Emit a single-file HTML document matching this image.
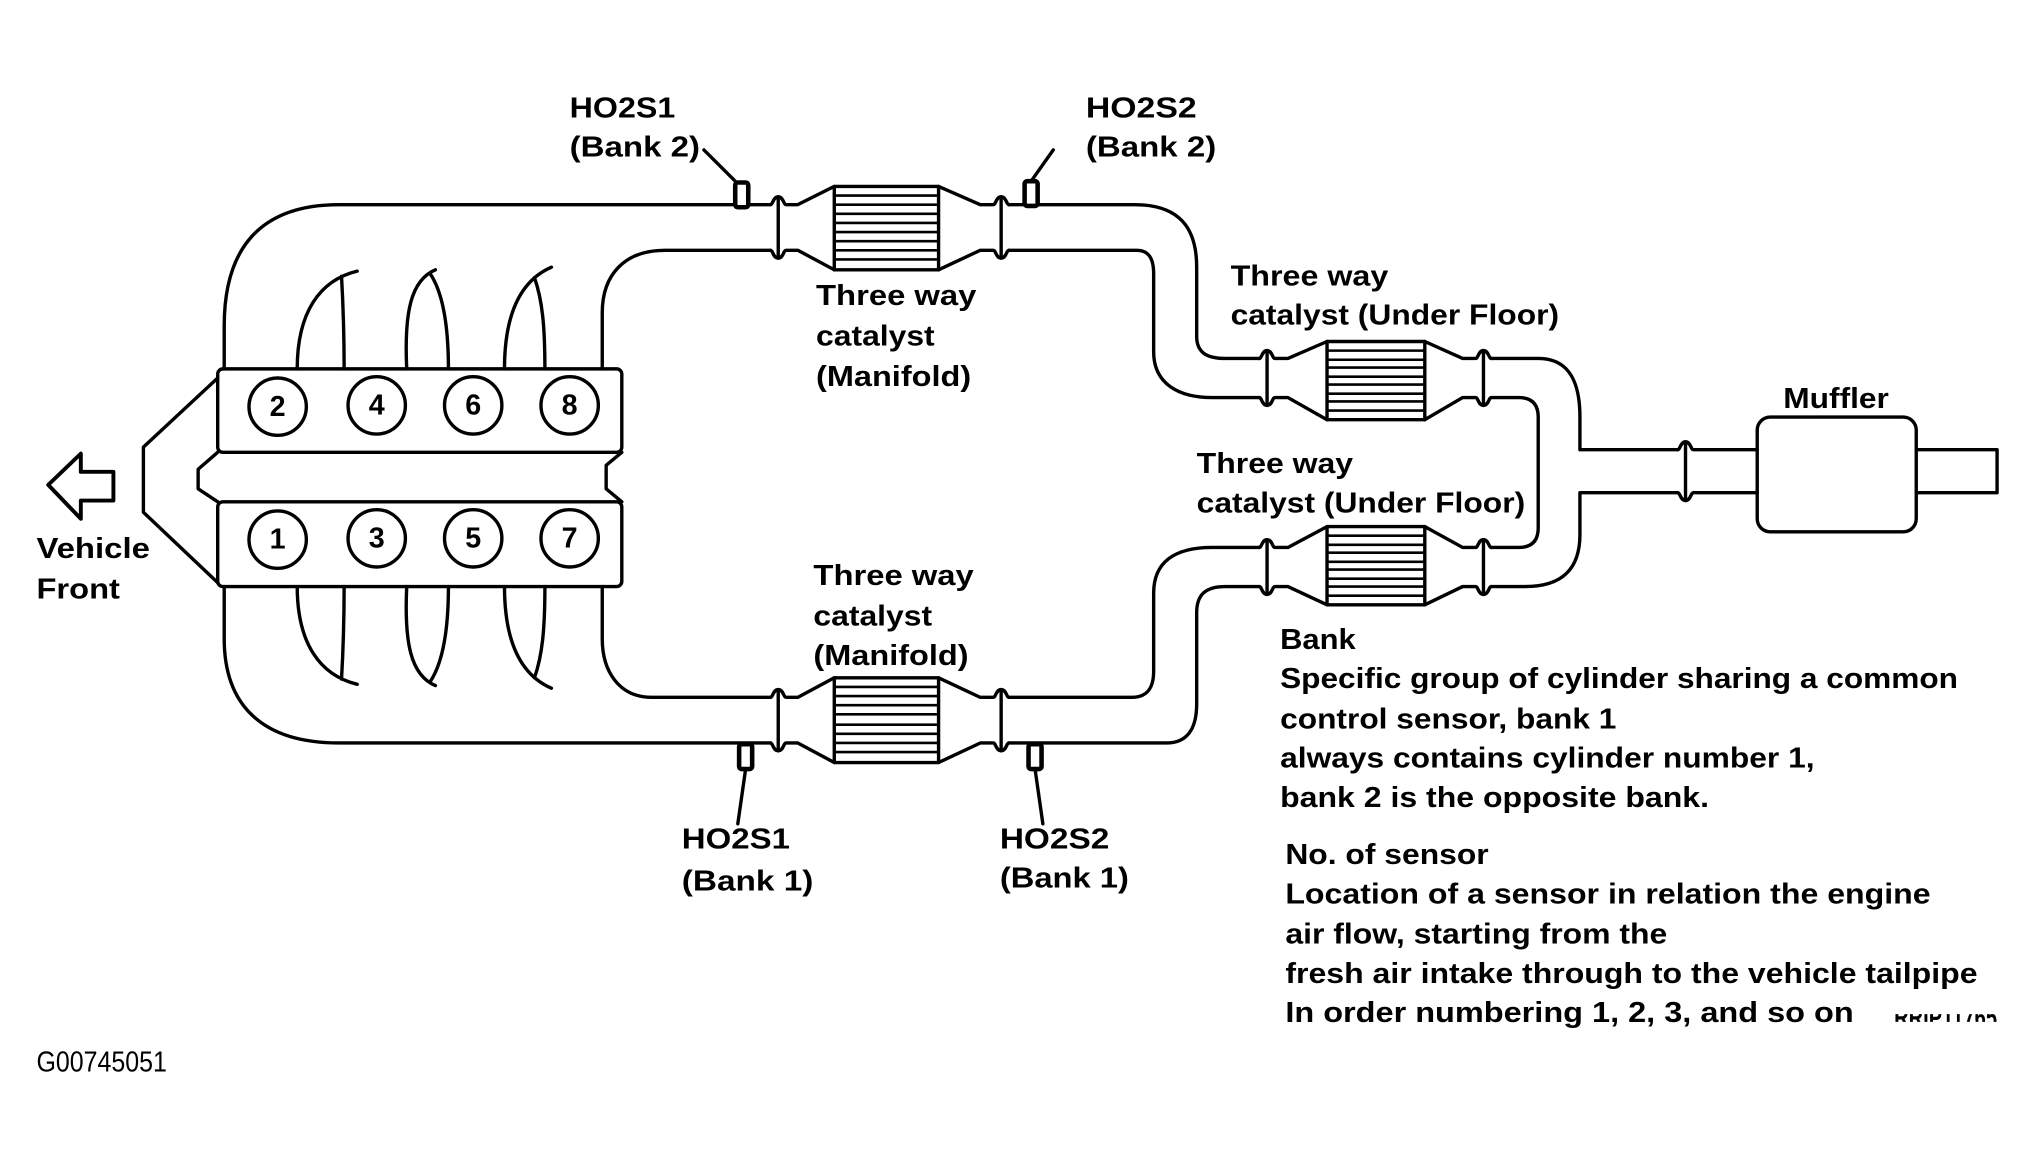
<!DOCTYPE html>
<html><head><meta charset="utf-8"><style>
html,body{margin:0;padding:0;background:#fff;}
svg{display:block;}
text{font-family:"Liberation Sans",Arial,sans-serif;font-weight:bold;font-size:22px;fill:#000;}
</style></head><body>
<svg width="2044" height="1149" viewBox="0 0 1568 881.5" preserveAspectRatio="none" xmlns="http://www.w3.org/2000/svg">
<defs>
<clipPath id="rr"><rect x="1450" y="778" width="90" height="6"/></clipPath>
</defs>
<g fill="none" stroke="#000" stroke-width="2.6" stroke-linecap="round" stroke-linejoin="round">
<path d="M172,283 L172,250 C172,190 200,157 260,157 L591,157"/>
<path d="M462,283 L462,240 C462,210 480,192 510,192 L591,192"/>
<path d="M591,157 C593,157 593,151 597,151 C601,151 601,157 603,157 L612,157 L640,143"/>
<path d="M591,192 C593,192 593,198 597,198 C601,198 601,192 603,192 L612,192 L640,207"/>
<line x1="597" y1="151" x2="597" y2="198"/>
<rect x="640" y="143" width="80" height="64"/>
<path d="M720,143 L752,157 L762,157 C764,157 764,151 768,151 C772,151 772,157 774,157"/>
<path d="M720,207 L752,192 L762,192 C764,192 764,198 768,198 C772,198 772,192 774,192"/>
<line x1="768" y1="151" x2="768" y2="198"/>
<path d="M774,157 L870,157 C905,157 918,175 918,205 L918,258 C918,270 925,275 940,275 L966,275"/>
<path d="M774,192 L872,192 C881,192 885,198 885,210 L885,270 C885,295 905,305 930,305 L966,305"/>
<path d="M966,275 C968,275 968,269 972,269 C976,269 976,275 978,275 L988,275 L1018,262"/>
<path d="M966,305 C968,305 968,311 972,311 C976,311 976,305 978,305 L988,305 L1018,322"/>
<line x1="972" y1="269" x2="972" y2="311"/>
<rect x="1018" y="262" width="75" height="60"/>
<path d="M1093,262 L1122,275 L1132,275 C1134,275 1134,269 1138,269 C1142,269 1142,275 1144,275"/>
<path d="M1093,322 L1122,305 L1132,305 C1134,305 1134,311 1138,311 C1142,311 1142,305 1144,305"/>
<line x1="1138" y1="269" x2="1138" y2="311"/>
<path d="M1144,275 L1180,275 C1205,275 1212,295 1212,320 L1212,345 L1287,345"/>
<path d="M1144,305 L1165,305 C1175,305 1180,310 1180,320 L1180,405 C1180,415 1175,420 1165,420 L1144,420"/>
<path d="M1144,450 L1170,450 C1200,450 1212,435 1212,410 L1212,378 L1287,378"/>
<path d="M1287,345 C1289,345 1289,339 1293,339 C1297,339 1297,345 1299,345 L1348,345"/>
<path d="M1287,378 C1289,378 1289,384 1293,384 C1297,384 1297,378 1299,378 L1348,378"/>
<line x1="1293" y1="339" x2="1293" y2="384"/>
<rect x="1348" y="320" width="122" height="88" rx="10"/>
<path d="M1470,345 L1532,345 L1532,378 L1470,378"/>
<path d="M966,420 C968,420 968,414 972,414 C976,414 976,420 978,420 L988,420 L1018,404"/>
<path d="M966,450 C968,450 968,456 972,456 C976,456 976,450 978,450 L988,450 L1018,464"/>
<line x1="972" y1="414" x2="972" y2="456"/>
<rect x="1018" y="404" width="75" height="60"/>
<path d="M1093,404 L1122,420 L1132,420 C1134,420 1134,414 1138,414 C1142,414 1142,420 1144,420"/>
<path d="M1093,464 L1122,450 L1132,450 C1134,450 1134,456 1138,456 C1142,456 1142,450 1144,450"/>
<line x1="1138" y1="414" x2="1138" y2="456"/>
<path d="M774,535 L868,535 C880,535 885,528 885,515 L885,455 C885,432 900,420 930,420 L966,420"/>
<path d="M774,570 L895,570 C910,570 918,560 918,540 L918,470 C918,456 925,450 940,450 L966,450"/>
<path d="M591,535 C593,535 593,529 597,529 C601,529 601,535 603,535 L612,535 L640,520"/>
<path d="M591,570 C593,570 593,576 597,576 C601,576 601,570 603,570 L612,570 L640,585"/>
<line x1="597" y1="529" x2="597" y2="576"/>
<rect x="640" y="520" width="80" height="65"/>
<path d="M720,520 L752,535 L762,535 C764,535 764,529 768,529 C772,529 772,535 774,535"/>
<path d="M720,585 L752,570 L762,570 C764,570 764,576 768,576 C772,576 772,570 774,570"/>
<line x1="768" y1="529" x2="768" y2="576"/>
<path d="M591,535 L500,535 C475,535 462,515 462,490 L462,450"/>
<path d="M591,570 L260,570 C200,570 172,540 172,490 L172,450"/>
<rect x="167" y="283" width="310" height="64" rx="4"/>
<rect x="167" y="385" width="310" height="65" rx="4"/>
<path d="M167,347 L152,360 L152,375 L167,385"/>
<path d="M477,347 L465,357 L465,375 L477,385"/>
<path d="M167,290 L110,343 L110,393 L167,447"/>
<circle cx="213" cy="312" r="22"/><circle cx="289" cy="311" r="22"/><circle cx="363" cy="311" r="22"/><circle cx="437" cy="311" r="22"/>
<circle cx="213" cy="414" r="22"/><circle cx="289" cy="413" r="22"/><circle cx="363" cy="413" r="22"/><circle cx="437" cy="413" r="22"/>
<path d="M228,283 C228,240 245,215 274,208"/><path d="M264,283 C264,250 263,230 262,212"/>
<path d="M312,283 C310,240 315,215 334,207"/><path d="M344,283 C344,250 340,225 330,210"/>
<path d="M387,283 C387,240 400,215 423,205"/><path d="M418,283 C418,250 416,230 410,213"/>
<path d="M228,450 C228,493 245,518 274,525"/><path d="M264,450 C264,483 263,503 262,521"/>
<path d="M312,450 C310,493 315,518 334,526"/><path d="M344,450 C344,483 340,508 330,523"/>
<path d="M387,450 C387,493 400,518 423,528"/><path d="M418,450 C418,483 416,503 410,520"/>
<path d="M37,372 L62,348 L62,362 L87,362 L87,384 L62,384 L62,398 Z" stroke-width="3"/>
<path d="M540,115 L565,140"/><path d="M808,115 L791,139"/>
<path d="M572,590 L566,632"/><path d="M794,590 L800,632"/>
</g>
<g fill="#fff" stroke="#000" stroke-width="3.5">
<rect x="564" y="140" width="10" height="19" rx="2"/>
<rect x="786" y="139" width="10" height="19" rx="2"/>
<rect x="567" y="571" width="10" height="19" rx="2"/>
<rect x="789" y="571" width="10" height="19" rx="2"/>
</g>
<g stroke="#000" stroke-width="2">
<path d="M640,150h80M640,157h80M640,164h80M640,171h80M640,178h80M640,185h80M640,192h80M640,199h80"/>
<path d="M640,527h80M640,534h80M640,541h80M640,548h80M640,556h80M640,563h80M640,570h80M640,577h80"/>
<path d="M1018,269h75M1018,276h75M1018,282h75M1018,289h75M1018,295h75M1018,302h75M1018,308h75M1018,315h75"/>
<path d="M1018,411h75M1018,418h75M1018,424h75M1018,431h75M1018,437h75M1018,444h75M1018,450h75M1018,457h75"/>
</g>
<g>
<g text-anchor="middle" font-size="20">
<text x="213" y="319">2</text><text x="289" y="318">4</text><text x="363" y="318">6</text><text x="437" y="318">8</text>
<text x="213" y="421">1</text><text x="289" y="420">3</text><text x="363" y="420">5</text><text x="437" y="420">7</text>
</g>
<text x="437" y="90" textLength="81" lengthAdjust="spacingAndGlyphs">HO2S1</text>
<text x="437" y="120" textLength="100" lengthAdjust="spacingAndGlyphs">(Bank 2)</text>
<text x="833" y="90" textLength="85" lengthAdjust="spacingAndGlyphs">HO2S2</text>
<text x="833" y="120" textLength="100" lengthAdjust="spacingAndGlyphs">(Bank 2)</text>
<text x="626" y="234" textLength="123" lengthAdjust="spacingAndGlyphs">Three way</text>
<text x="626" y="265" textLength="91" lengthAdjust="spacingAndGlyphs">catalyst</text>
<text x="626" y="296" textLength="119" lengthAdjust="spacingAndGlyphs">(Manifold)</text>
<text x="944" y="219" textLength="121" lengthAdjust="spacingAndGlyphs">Three way</text>
<text x="944" y="249" textLength="252" lengthAdjust="spacingAndGlyphs">catalyst (Under Floor)</text>
<text x="1368" y="313" textLength="81" lengthAdjust="spacingAndGlyphs">Muffler</text>
<text x="918" y="363" textLength="120" lengthAdjust="spacingAndGlyphs">Three way</text>
<text x="918" y="393" textLength="252" lengthAdjust="spacingAndGlyphs">catalyst (Under Floor)</text>
<text x="624" y="449" textLength="123" lengthAdjust="spacingAndGlyphs">Three way</text>
<text x="624" y="480" textLength="91" lengthAdjust="spacingAndGlyphs">catalyst</text>
<text x="624" y="510" textLength="119" lengthAdjust="spacingAndGlyphs">(Manifold)</text>
<text x="523" y="651" textLength="83" lengthAdjust="spacingAndGlyphs">HO2S1</text>
<text x="523" y="683" textLength="101" lengthAdjust="spacingAndGlyphs">(Bank 1)</text>
<text x="767" y="651" textLength="84" lengthAdjust="spacingAndGlyphs">HO2S2</text>
<text x="767" y="681" textLength="99" lengthAdjust="spacingAndGlyphs">(Bank 1)</text>
<text x="982" y="498" textLength="58" lengthAdjust="spacingAndGlyphs">Bank</text>
<text x="982" y="528" textLength="520" lengthAdjust="spacingAndGlyphs">Specific group of cylinder sharing a common</text>
<text x="982" y="559" textLength="258" lengthAdjust="spacingAndGlyphs">control sensor, bank 1</text>
<text x="982" y="589" textLength="410" lengthAdjust="spacingAndGlyphs">always contains cylinder number 1,</text>
<text x="982" y="619" textLength="329" lengthAdjust="spacingAndGlyphs">bank 2 is the opposite bank.</text>
<text x="986" y="663" textLength="156" lengthAdjust="spacingAndGlyphs">No. of sensor</text>
<text x="986" y="693" textLength="495" lengthAdjust="spacingAndGlyphs">Location of a sensor in relation the engine</text>
<text x="986" y="724" textLength="293" lengthAdjust="spacingAndGlyphs">air flow, starting from the</text>
<text x="986" y="754" textLength="531" lengthAdjust="spacingAndGlyphs">fresh air intake through to the vehicle tailpipe</text>
<text x="986" y="784" textLength="436" lengthAdjust="spacingAndGlyphs">In order numbering 1, 2, 3, and so on</text>
<text x="1453" y="788" font-size="11" clip-path="url(#rr)" textLength="79" lengthAdjust="spacingAndGlyphs">RRIP11765</text>
<text x="28" y="428" textLength="87" lengthAdjust="spacingAndGlyphs">Vehicle</text>
<text x="28" y="459" textLength="64" lengthAdjust="spacingAndGlyphs">Front</text>
<text x="28" y="822" font-size="16" style="font-weight:normal" textLength="100" lengthAdjust="spacingAndGlyphs">G00745051</text>
</g>
</svg>
</body></html>
